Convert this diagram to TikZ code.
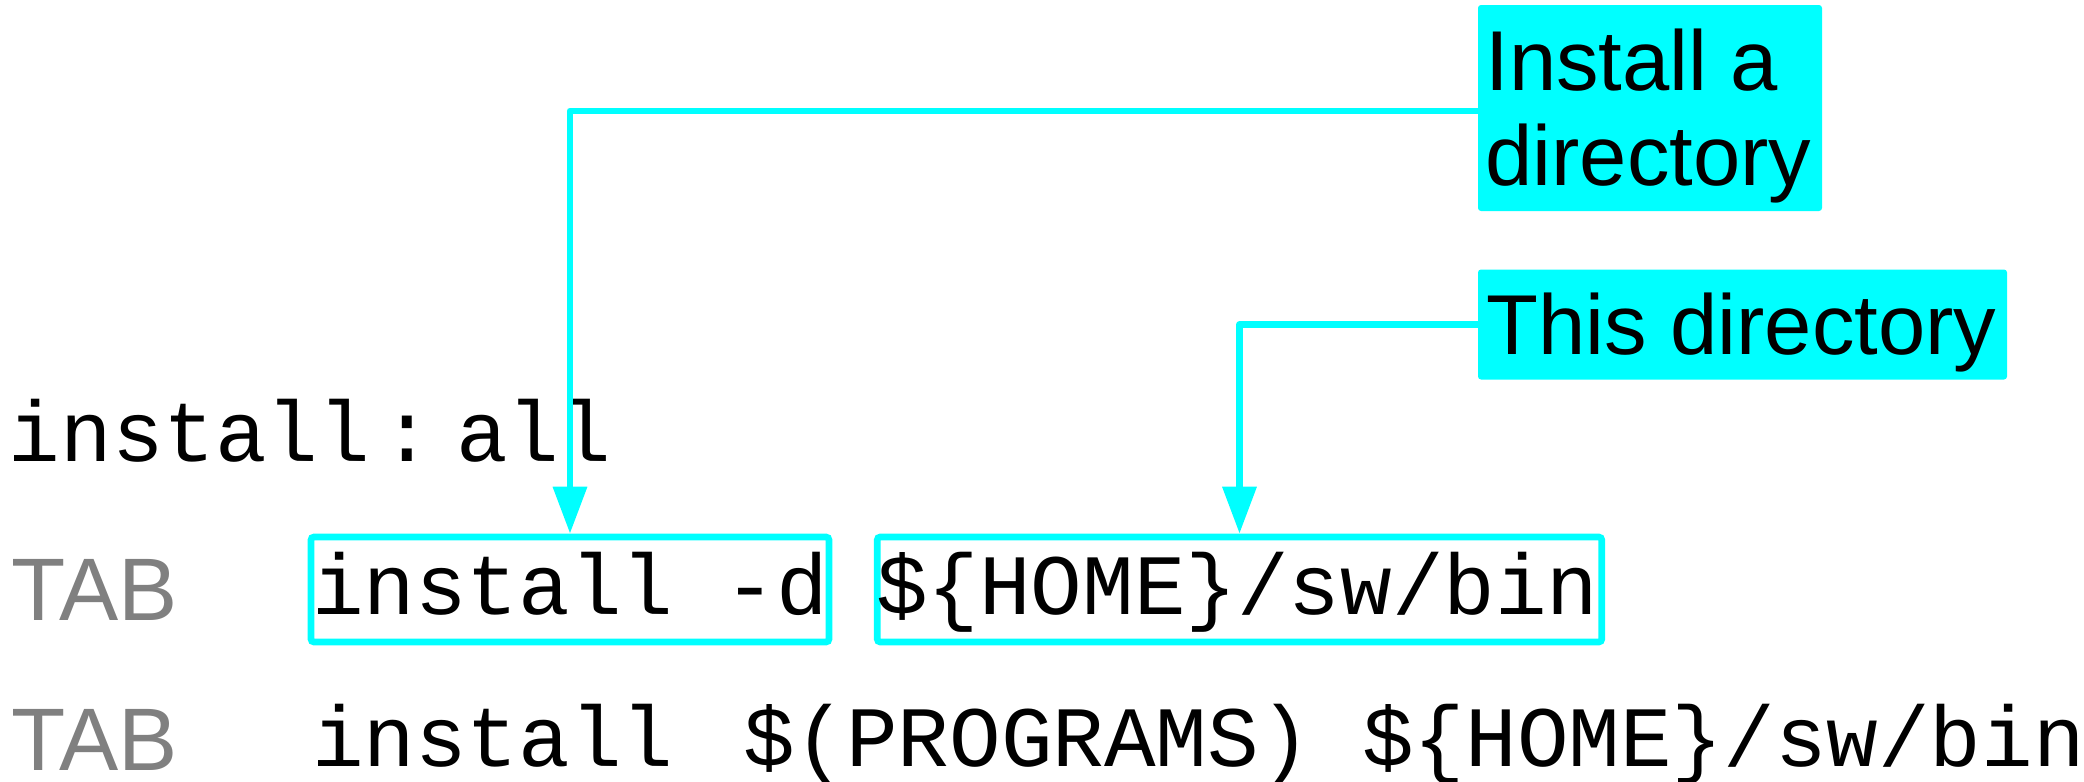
\documentclass[tikz,border=0pt]{standalone}
\usepackage{fontspec}
\setmainfont{Liberation Sans}
\setmonofont{Liberation Mono}
\usetikzlibrary{arrows.meta}
\definecolor{hlcyan}{HTML}{00FFFF}
\definecolor{tabgray}{HTML}{808080}
\newcommand{\codefont}{\ttfamily\fontsize{43}{50}\selectfont}
\newcommand{\tabfont}{\rmfamily\fontsize{44.4}{50}\selectfont}
\newcommand{\notefont}{\rmfamily\fontsize{42.5}{47.5}\selectfont}
\tikzset{
  code/.style={font=\codefont, inner sep=0pt, outer sep=0pt, anchor=base west},
  tabtxt/.style={font=\tabfont, text=tabgray, inner sep=0pt, anchor=base west},
  hlbox/.style={draw=hlcyan, line width=3.35pt, rounded corners=1.5pt, inner sep=0pt},
  callout/.style={fill=hlcyan, rounded corners=1.5pt, inner sep=0pt},
  note/.style={font=\notefont, align=left, inner sep=0pt, anchor=base west},
  conn/.style={draw=hlcyan, line width=3.35pt, line join=round,
    -{Triangle[length=23.5pt,width=16.5pt]}}
}
\begin{document}
\begin{tikzpicture}[x=0.5pt,y=-0.5pt]
\useasboundingbox (0,0) rectangle (2084,782);
% callout boxes
\node[callout, minimum width=172pt, minimum height=103pt] (c1box) at (1650,108) {};
\node[callout, minimum width=264.5pt, minimum height=55pt] (c2box) at (1742.5,324.5) {};
\node[note] (c1txt) at (1485,185) {Install a\\directory};
\node[note] (c2txt) at (1486,354) {This directory};
% line 1
\node[code] (l1a) at (9,461) {install};
\node[code, anchor=base] (l1b) at (407,461) {:};
\node[code] (l1c) at (456,461) {all};
% line 2
\node[tabtxt] (tab2) at (11,620) {TAB};
\node[hlbox, minimum width=259pt, minimum height=52.5pt] (box1) at (570,589.5) {};
\node[hlbox, minimum width=362.25pt, minimum height=52.5pt] (box2) at (1239.5,589.5) {};
\node[code] (l2a) at (312,614) {install -d};
\node[code] (l2b) at (876,614) {\$\{HOME\}/sw/bin};
% line 3
\node[tabtxt] (tab3) at (11,770) {TAB};
\node[code] (l3a) at (312,766) {install};
\node[code] (l3b) at (743,766) {\$(PROGRAMS) \$\{HOME\}/sw/bin};
% connectors
\draw[conn] ([yshift=-1.5pt]c1box.west) -| (box1.north);
\draw[conn] (c2box.west) -| (box2.north);
\end{tikzpicture}
\end{document}
